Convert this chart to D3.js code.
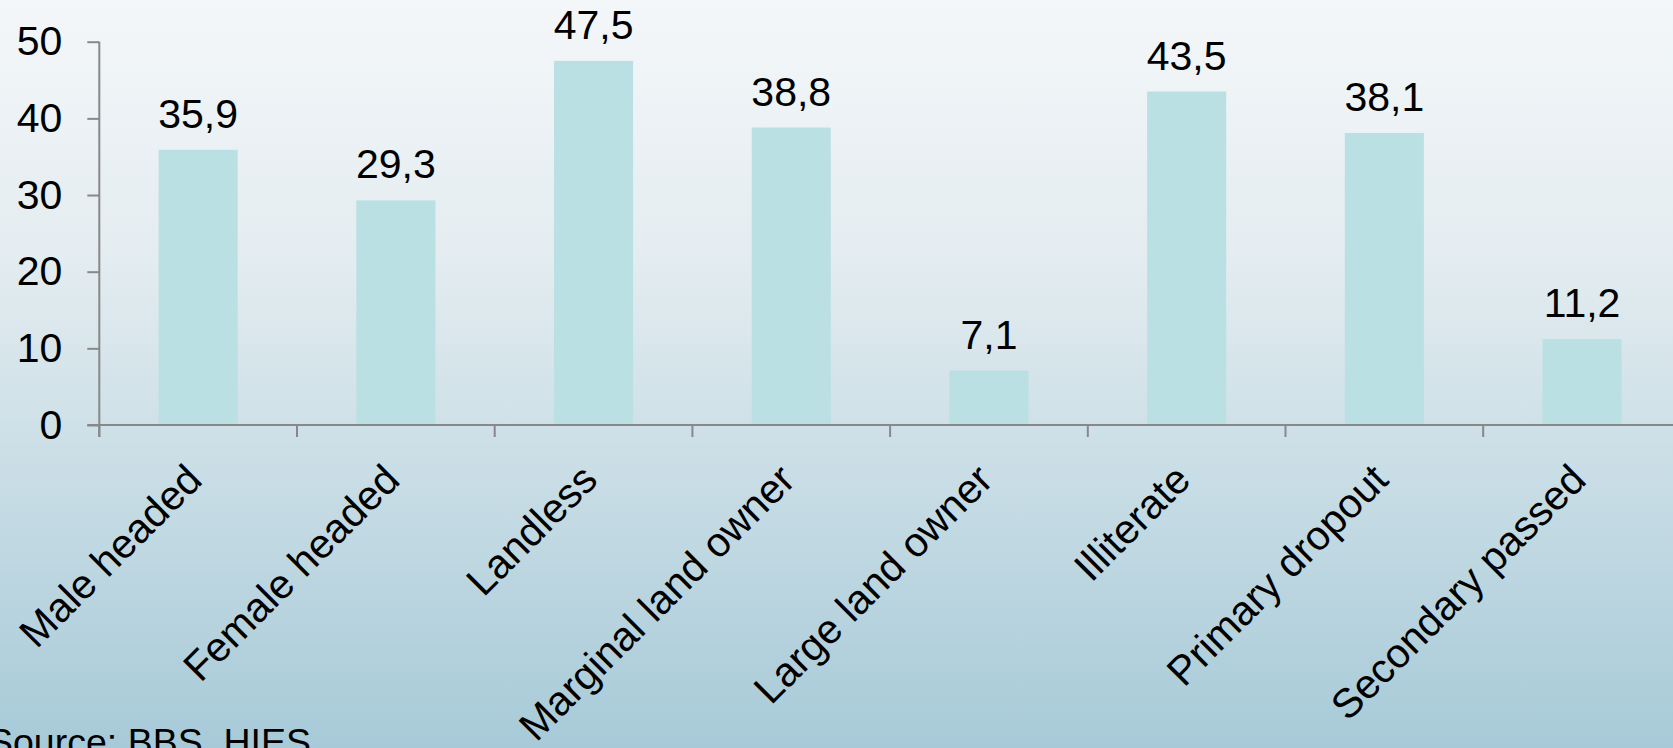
<!DOCTYPE html>
<html>
<head>
<meta charset="utf-8">
<script src="https://cdn.jsdelivr.net/npm/d3@7"></script>
<style>
  html, body { margin: 0; padding: 0; overflow: hidden; }
  svg { display: block; }
  text { font-family: "Liberation Sans", Arial, sans-serif; fill: #000; }
</style>
</head>
<body>
<svg id="chart" width="1673" height="748"></svg>
<script>
// Poverty headcount rate by household characteristic (%)
const categories = [
  "Male headed", "Female headed", "Landless", "Marginal land owner",
  "Large land owner", "Illiterate", "Primary dropout", "Secondary passed"
];
const values = [35.9, 29.3, 47.5, 38.8, 7.1, 43.5, 38.1, 11.2];
const valueLabels = ["35,9", "29,3", "47,5", "38,8", "7,1", "43,5", "38,1", "11,2"];
const yTicks = [0, 10, 20, 30, 40, 50];
const sourceNote = "Source: BBS, HIES";

const W = 1673, H = 748;
const svg = d3.select("#chart");

// background gradient
const defs = svg.append("defs");
const grad = defs.append("linearGradient")
  .attr("id", "bg").attr("x1", 0).attr("y1", 0).attr("x2", 0).attr("y2", 1);
grad.append("stop").attr("offset", "0%").attr("stop-color", "#f4f7f9");
grad.append("stop").attr("offset", "35%").attr("stop-color", "#e3ecf0");
grad.append("stop").attr("offset", "100%").attr("stop-color", "#a7cad8");
svg.append("rect").attr("width", W).attr("height", H).attr("fill", "url(#bg)");

const left = 99.3, zeroY = 425, topY = 41.7;
const step = 197.7;
const x = d3.scaleBand()
  .domain(categories)
  .range([left, left + step * categories.length])
  .paddingInner(0.6)
  .paddingOuter(0.3);
const y = d3.scaleLinear().domain([0, 50]).range([zeroY, topY]);

const axisColor = "#888888";
const fontSize = 41;

// bars
svg.append("g").selectAll("rect")
  .data(values)
  .join("rect")
  .attr("x", (d, i) => x(categories[i]))
  .attr("y", d => y(d))
  .attr("width", x.bandwidth())
  .attr("height", d => y(0) - y(d))
  .attr("fill", "#bae0e3");

// value labels
svg.append("g").selectAll("text")
  .data(values)
  .join("text")
  .attr("x", (d, i) => x(categories[i]) + x.bandwidth() / 2)
  .attr("y", d => y(d) - 22)
  .attr("text-anchor", "middle")
  .attr("font-size", fontSize)
  .text((d, i) => valueLabels[i]);

// y axis
const yAxis = svg.append("g")
  .attr("transform", `translate(${left},0)`)
  .call(d3.axisLeft(y).tickValues(yTicks).tickSize(12).tickPadding(25).tickFormat(d3.format("d")));
yAxis.select(".domain").attr("stroke", axisColor).attr("stroke-width", 2)
  .attr("d", `M0,${topY}V${zeroY + 12}`);
yAxis.selectAll(".tick line").attr("stroke", axisColor).attr("stroke-width", 2);
yAxis.selectAll(".tick text").attr("font-size", fontSize)
  .attr("font-family", "Liberation Sans, Arial, sans-serif").attr("fill", "#000");

// x axis: line, boundary ticks, rotated category labels
const xAxis = svg.append("g")
  .attr("transform", `translate(0,${zeroY})`)
  .call(d3.axisBottom(x).tickSize(0).tickPadding(0));
xAxis.select(".domain").attr("stroke", axisColor).attr("stroke-width", 2)
  .attr("d", `M${left - 12},0H${W + 20}`);
xAxis.selectAll(".tick text")
  .attr("font-size", fontSize)
  .attr("font-family", "Liberation Sans, Arial, sans-serif")
  .attr("fill", "#000")
  .attr("text-anchor", "end")
  .attr("dy", null)
  .attr("y", null)
  .attr("transform", "translate(6,57) rotate(-45)");

const boundaries = d3.range(categories.length + 1).map(i => left + i * x.step());
svg.append("g").selectAll("line")
  .data(boundaries)
  .join("line")
  .attr("x1", d => d).attr("x2", d => d)
  .attr("y1", zeroY).attr("y2", zeroY + 12)
  .attr("stroke", axisColor).attr("stroke-width", 2);

// source note
svg.append("text")
  .attr("x", -12).attr("y", 755)
  .attr("font-size", 37.5)
  .text(sourceNote);
</script>
</body>
</html>
